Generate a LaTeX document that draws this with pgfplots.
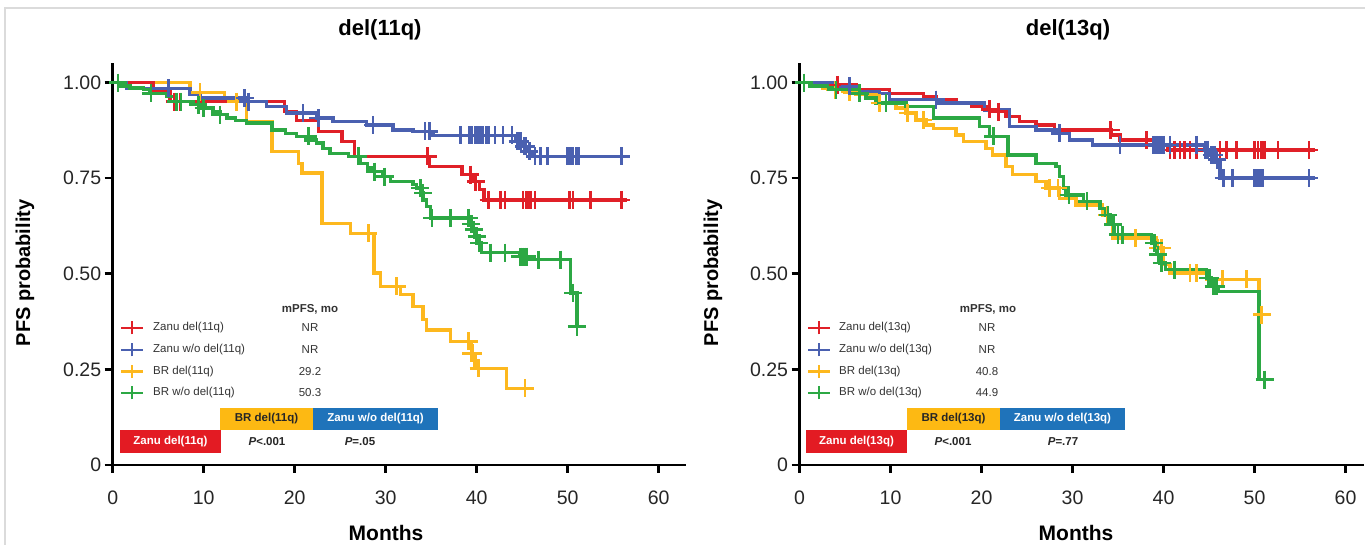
\documentclass[border=0pt]{standalone}
\usepackage{fontspec}
\setmainfont{Liberation Sans}
\usepackage{pgfplots}
\pgfplotsset{compat=1.18}
\definecolor{cRed}{HTML}{E02028}
\definecolor{cBlue}{HTML}{4A60B0}
\definecolor{cYel}{HTML}{FDB81E}
\definecolor{cGreen}{HTML}{2CA844}
\definecolor{bRed}{HTML}{E31B23}
\definecolor{bYel}{HTML}{FDB913}
\definecolor{bBlue}{HTML}{1F73BA}
\definecolor{txt}{HTML}{333333}
\pgfplotsset{kmaxis/.style={
  scale only axis, height=401.6pt, ymin=0, ymax=1.05, xmin=0,
  axis x line*=bottom, axis y line*=left,
  axis line style={-, line width=2.6pt, black},
  tick align=outside, major tick length=8pt,
  major tick style={line width=2.6pt, black},
  xtick={0,10,20,30,40,50,60}, xticklabels={0,10,20,30,40,50,60},
  ytick={0,0.25,0.5,0.75,1}, yticklabels={0,0.25,0.50,0.75,1.00},
  tick label style={font=\fontsize{19.5}{20}\selectfont, text=black!85},
  xticklabel style={yshift=-14pt},
  clip=false,
  every axis plot/.append style={line width=3.4pt},
  cens/.style={only marks, mark=+, mark size=9pt, mark options={line width=2.6pt}},
}}
\newcommand{\lgfont}{\fontsize{11.5}{13}\selectfont}
\newcommand{\legsample}[3]{%
  \draw[#1, line width=2.8pt] (#2,#3) -- ++(22,0);
  \draw[#1, line width=2.4pt] (#2+11,#3-6.5) -- ++(0,13);}
\begin{document}
\begin{tikzpicture}[x=1pt,y=1pt]
\useasboundingbox (0,0) rectangle (1365,545);
\draw[black!14, line width=1.5pt] (5,0) -- (5,537) -- (1365,537);
% ---------------- left panel ----------------
\begin{axis}[kmaxis, at={(112.7pt,80pt)}, anchor=south west, width=573.3pt, xmax=63]
\addplot[cYel, const plot] coordinates {(0,1)(8.5,0.974)(12.3,0.95)(14.7,0.898)(17.5,0.82)(20.4,0.789)(20.8,0.763)(23.0,0.632)(26.1,0.606)(28.7,0.502)(29.4,0.467)(31.6,0.445)(33.0,0.415)(34.1,0.38)(34.5,0.353)(37.1,0.323)(39.4,0.292)(39.8,0.253)(43.3,0.2)(45.5,0.2)};
\addplot[cYel, cens] coordinates {(9.6,0.974)(13.6,0.95)(28.1,0.606)(31.2,0.467)(39.1,0.323)(39.4,0.292)(39.6,0.292)(40.2,0.253)(45.3,0.2)};
\addplot[cRed, const plot] coordinates {(0,1)(4.5,0.975)(6.3,0.95)(18.9,0.924)(20.2,0.90)(22.6,0.872)(25.2,0.846)(26.6,0.807)(34.8,0.78)(38.4,0.759)(39.6,0.741)(40.3,0.72)(40.8,0.693)(56.5,0.693)};
\addplot[cRed, cens] coordinates {(6.8,0.95)(7.4,0.95)(34.6,0.807)(39.3,0.759)(39.9,0.741)(41.3,0.693)(42.6,0.693)(43.1,0.693)(45.1,0.693)(45.4,0.693)(45.7,0.693)(45.9,0.693)(46.4,0.693)(50.2,0.693)(50.6,0.693)(52.5,0.693)(55.9,0.693)};
\addplot[cBlue, const plot] coordinates {(0,1)(1.5,0.985)(8.5,0.97)(9.6,0.959)(14.7,0.95)(16.9,0.937)(19.1,0.92)(22.4,0.907)(24.2,0.898)(27.9,0.889)(30.8,0.876)(33.0,0.872)(35.2,0.862)(44.3,0.846)(45.0,0.833)(45.6,0.82)(46.1,0.807)(56.5,0.807)};
\addplot[cBlue, cens] coordinates {(6.1,0.985)(14.5,0.959)(14.9,0.95)(20.9,0.92)(22.6,0.907)(28.6,0.889)(34.3,0.872)(34.8,0.872)(38.2,0.862)(39.2,0.862)(39.5,0.862)(39.8,0.862)(40.1,0.862)(40.4,0.862)(40.7,0.862)(41.0,0.862)(41.3,0.862)(42.0,0.862)(42.9,0.862)(43.9,0.862)(44.5,0.846)(44.8,0.846)(45.2,0.833)(45.4,0.833)(45.8,0.82)(46.4,0.807)(47.0,0.807)(47.8,0.807)(50.0,0.807)(50.3,0.807)(50.6,0.807)(50.9,0.807)(51.2,0.807)(55.9,0.807)};
\addplot[cGreen, const plot] coordinates {(0,1)(0.8,0.991)(1.9,0.986)(3.4,0.981)(4.1,0.972)(5.9,0.963)(7.0,0.95)(8.9,0.942)(9.6,0.933)(11.0,0.925)(11.8,0.916)(12.5,0.907)(13.5,0.9)(14.7,0.894)(17.5,0.876)(19.0,0.867)(20.2,0.859)(21.2,0.85)(22.4,0.842)(23.1,0.828)(23.9,0.815)(25.9,0.807)(27.2,0.789)(28.0,0.776)(28.6,0.767)(29.7,0.754)(30.5,0.741)(33.0,0.733)(33.4,0.724)(33.8,0.711)(34.1,0.693)(34.5,0.676)(34.9,0.646)(39.1,0.630)(39.5,0.615)(39.9,0.598)(40.2,0.58)(40.5,0.555)(44.7,0.545)(45.8,0.537)(50.3,0.45)(51.0,0.362)(51.0,0.362)};
\addplot[cGreen, cens] coordinates {(0.6,1)(4.2,0.972)(7.0,0.95)(7.5,0.95)(9.4,0.942)(10.0,0.933)(11.8,0.916)(21.5,0.859)(27.0,0.807)(28.8,0.767)(29.9,0.754)(33.8,0.724)(34.1,0.711)(35.1,0.646)(37.1,0.646)(39.1,0.646)(39.4,0.63)(39.7,0.615)(40.0,0.598)(40.3,0.58)(41.5,0.555)(43.1,0.555)(44.8,0.545)(45.0,0.545)(45.3,0.545)(45.5,0.545)(46.8,0.537)(49.2,0.537)(50.6,0.45)(51.0,0.362)};
\end{axis}
% ---------------- right panel ----------------
\begin{axis}[kmaxis, at={(799.5pt,80pt)}, anchor=south west, width=564.2pt, xmax=62]
\addplot[cYel, const plot] coordinates {(0,1)(1.3,0.994)(2.6,0.985)(3.7,0.981)(5.0,0.975)(6.2,0.968)(8.4,0.946)(10.6,0.933)(11.7,0.92)(12.8,0.902)(13.9,0.889)(14.7,0.88)(17.2,0.863)(18.0,0.846)(20.5,0.828)(21.2,0.811)(22.7,0.78)(23.4,0.759)(26.0,0.741)(27.1,0.724)(28.6,0.697)(30.4,0.68)(33.3,0.654)(34.0,0.628)(34.4,0.593)(39.2,0.567)(40.0,0.524)(40.7,0.502)(44.7,0.485)(50.5,0.393)(51.0,0.393)};
\addplot[cYel, cens] coordinates {(3.9,0.981)(5.5,0.975)(8.8,0.946)(9.5,0.946)(11.9,0.92)(13.6,0.902)(27.5,0.724)(28.4,0.724)(33.8,0.654)(36.9,0.593)(39.4,0.567)(39.8,0.567)(42.9,0.502)(43.6,0.502)(46.5,0.485)(49.1,0.485)(50.8,0.393)};
\addplot[cRed, const plot] coordinates {(0,1)(3.7,0.994)(6.2,0.981)(9.9,0.972)(13.6,0.963)(15.0,0.955)(17.2,0.946)(18.9,0.937)(20.9,0.924)(22.7,0.911)(24.2,0.898)(26.0,0.889)(28.0,0.876)(34.3,0.863)(35.2,0.85)(39.6,0.837)(40.5,0.824)(56.6,0.824)};
\addplot[cRed, cens] coordinates {(4.2,0.994)(15.0,0.955)(20.9,0.93)(21.9,0.924)(34.2,0.876)(38.1,0.85)(40.7,0.824)(41.2,0.824)(41.8,0.824)(42.3,0.824)(42.9,0.824)(43.6,0.824)(44.9,0.824)(46.2,0.824)(46.9,0.824)(48.0,0.824)(50.0,0.824)(50.4,0.824)(50.8,0.824)(51.1,0.824)(52.6,0.824)(56.0,0.824)};
\addplot[cBlue, const plot] coordinates {(0,1)(3.7,0.99)(6.0,0.977)(8.8,0.972)(9.9,0.955)(15.3,0.946)(20.3,0.928)(23.1,0.885)(26.0,0.876)(28.6,0.867)(29.7,0.85)(32.2,0.837)(44.5,0.824)(45.2,0.811)(45.8,0.798)(46.2,0.75)(56.6,0.75)};
\addplot[cBlue, cens] coordinates {(5.5,0.99)(15.0,0.955)(28.6,0.867)(35.2,0.837)(38.9,0.837)(39.1,0.837)(39.3,0.837)(39.5,0.837)(39.7,0.837)(40.0,0.837)(40.7,0.837)(43.6,0.837)(44.6,0.824)(44.9,0.824)(45.3,0.811)(45.6,0.811)(45.9,0.798)(46.6,0.75)(47.6,0.75)(50.0,0.75)(50.3,0.75)(50.6,0.75)(50.9,0.75)(56.0,0.75)};
\addplot[cGreen, const plot] coordinates {(0,1)(1.1,0.991)(3.7,0.981)(6.2,0.972)(7.3,0.959)(8.4,0.946)(11.7,0.937)(14.7,0.907)(19.8,0.885)(20.9,0.859)(22.9,0.811)(26.0,0.789)(28.2,0.78)(28.6,0.754)(29.0,0.724)(29.3,0.706)(31.2,0.689)(33.0,0.671)(33.7,0.654)(34.2,0.628)(34.6,0.602)(38.7,0.58)(39.2,0.55)(39.6,0.528)(40.2,0.511)(44.7,0.489)(45.3,0.467)(46.0,0.454)(50.5,0.223)(51.1,0.223)};
\addplot[cGreen, cens] coordinates {(0.5,1)(4.0,0.981)(6.6,0.972)(9.5,0.946)(21.3,0.859)(29.6,0.706)(31.6,0.689)(33.9,0.654)(34.5,0.628)(35.0,0.602)(35.5,0.602)(39.0,0.58)(39.4,0.55)(39.8,0.528)(41.2,0.511)(44.9,0.489)(45.1,0.489)(45.5,0.467)(45.8,0.467)(51.1,0.223)};
\end{axis}
% ---------------- titles and labels ----------------
\node[font=\bfseries\fontsize{22}{24}\selectfont] at (380,515) {del(11q)};
\node[font=\bfseries\fontsize{22}{24}\selectfont] at (1068,515) {del(13q)};
\node[rotate=90, font=\bfseries\fontsize{20}{22}\selectfont] at (25,272) {PFS probability};
\node[rotate=90, font=\bfseries\fontsize{20}{22}\selectfont] at (713,272) {PFS probability};
\node[font=\bfseries\fontsize{21}{23}\selectfont] at (386,12) {Months};
\node[font=\bfseries\fontsize{21}{23}\selectfont] at (1076,12) {Months};
% ---------------- left legend ----------------
\node[font=\bfseries\lgfont, text=txt] at (310,236) {mPFS, mo};
\legsample{cRed}{121}{217}\legsample{cBlue}{121}{195}\legsample{cYel}{121}{173.5}\legsample{cGreen}{121}{152}
\node[anchor=west, font=\lgfont, text=txt, inner sep=0pt] at (153,217) {Zanu del(11q)};
\node[anchor=west, font=\lgfont, text=txt, inner sep=0pt] at (153,195) {Zanu w/o del(11q)};
\node[anchor=west, font=\lgfont, text=txt, inner sep=0pt] at (153,173.5) {BR del(11q)};
\node[anchor=west, font=\lgfont, text=txt, inner sep=0pt] at (153,152) {BR w/o del(11q)};
\node[font=\lgfont, text=txt] at (310,217) {NR};
\node[font=\lgfont, text=txt] at (310,195) {NR};
\node[font=\lgfont, text=txt] at (310,173.5) {29.2};
\node[font=\lgfont, text=txt] at (310,152) {50.3};
\fill[bYel] (220,115) rectangle (313,137);
\fill[bBlue] (313,115) rectangle (438,137);
\fill[bRed] (120,92) rectangle (221,115);
\node[font=\bfseries\lgfont, text=black!85] at (266.5,126) {BR del(11q)};
\node[font=\bfseries\lgfont, text=white] at (375.5,126) {Zanu w/o del(11q)};
\node[font=\bfseries\lgfont, text=white] at (170.5,103.5) {Zanu del(11q)};
\node[font=\bfseries\lgfont, text=black!85] at (267,103.5) {\textit{P}<.001};
\node[font=\bfseries\lgfont, text=black!85] at (360,103.5) {\textit{P}=.05};
% ---------------- right legend ----------------
\node[font=\bfseries\lgfont, text=txt] at (988,236) {mPFS, mo};
\legsample{cRed}{808}{217}\legsample{cBlue}{808}{195}\legsample{cYel}{808}{173.5}\legsample{cGreen}{808}{152}
\node[anchor=west, font=\lgfont, text=txt, inner sep=0pt] at (839,217) {Zanu del(13q)};
\node[anchor=west, font=\lgfont, text=txt, inner sep=0pt] at (839,195) {Zanu w/o del(13q)};
\node[anchor=west, font=\lgfont, text=txt, inner sep=0pt] at (839,173.5) {BR del(13q)};
\node[anchor=west, font=\lgfont, text=txt, inner sep=0pt] at (839,152) {BR w/o del(13q)};
\node[font=\lgfont, text=txt] at (987,217) {NR};
\node[font=\lgfont, text=txt] at (987,195) {NR};
\node[font=\lgfont, text=txt] at (987,173.5) {40.8};
\node[font=\lgfont, text=txt] at (987,152) {44.9};
\fill[bYel] (907,115) rectangle (1000,137);
\fill[bBlue] (1000,115) rectangle (1125,137);
\fill[bRed] (806,92) rectangle (907,115);
\node[font=\bfseries\lgfont, text=black!85] at (953.5,126) {BR del(13q)};
\node[font=\bfseries\lgfont, text=white] at (1062.5,126) {Zanu w/o del(13q)};
\node[font=\bfseries\lgfont, text=white] at (856.5,103.5) {Zanu del(13q)};
\node[font=\bfseries\lgfont, text=black!85] at (953,103.5) {\textit{P}<.001};
\node[font=\bfseries\lgfont, text=black!85] at (1063,103.5) {\textit{P}=.77};
\end{tikzpicture}
\end{document}
